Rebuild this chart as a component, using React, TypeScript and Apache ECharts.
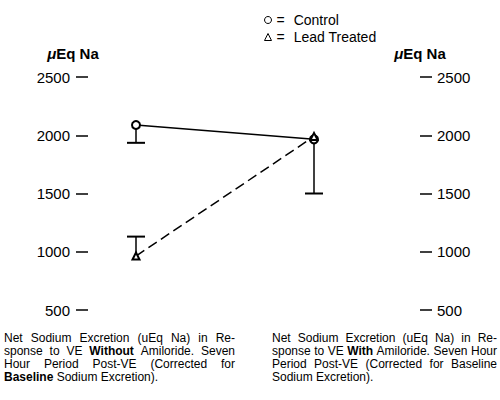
import React, { useEffect, useRef } from 'react';
import * as echarts from 'echarts';

const categories = ['Without Amiloride', 'With Amiloride'];
const seriesNames = ['Control', 'Lead Treated'];
const controlValues = [2088, 1965];
const leadValues = [963, 1990];
const controlErrorEnds = [1935, 1500];
const leadErrorEnds: (number | null)[] = [1130, null];
const yMin = 500;
const yMax = 2500;
const yStep = 500;
const axisNameParts = ['μ', 'Eq Na'];
// **word** marks bold words
const captionLeft = [
  'Net Sodium Excretion (uEq Na) in Re-',
  'sponse to VE **Without** Amiloride. Seven',
  'Hour Period Post-VE (Corrected for',
  '**Baseline** Sodium Excretion).',
];
const captionRight = [
  'Net Sodium Excretion (uEq Na) in Re-',
  'sponse to VE **With** Amiloride. Seven Hour',
  'Period Post-VE (Corrected for Baseline',
  'Sodium Excretion).',
];

const FONT = '"Liberation Sans", Arial, Helvetica, sans-serif';
const CAP_SIZE = 12;
const CAP_LH = 13;

let measureCtx: CanvasRenderingContext2D | null = null;
const measure = (t: string, bold: boolean) => {
  if (!measureCtx) measureCtx = document.createElement('canvas').getContext('2d');
  if (!measureCtx) return t.length * CAP_SIZE * 0.5;
  measureCtx.font = `${bold ? 'bold ' : ''}${CAP_SIZE}px ${FONT}`;
  return measureCtx.measureText(t).width;
};

const buildCaption = (lines: string[], width: number) => {
  const rich: Record<string, any> = {
    n: { fontSize: CAP_SIZE, fontFamily: FONT, lineHeight: CAP_LH, color: '#000' },
    b: { fontSize: CAP_SIZE, fontFamily: FONT, fontWeight: 'bold', lineHeight: CAP_LH, color: '#000' },
  };
  const out = lines.map((line, li) => {
    const words = line.split(' ').map((w) => {
      const bold = w.startsWith('**') && w.endsWith('**');
      return { text: bold ? w.slice(2, -2) : w, bold };
    });
    const last = li === lines.length - 1;
    const wordsW = words.reduce((s, w) => s + measure(w.text, w.bold), 0);
    const gap = last || words.length < 2 ? measure(' ', false) : (width - wordsW) / (words.length - 1);
    const gKey = `g${li}`;
    rich[gKey] = { width: gap, fontSize: CAP_SIZE, fontFamily: FONT, lineHeight: CAP_LH, color: '#000' };
    return words.map((w) => `{${w.bold ? 'b' : 'n'}|${w.text}}`).join(`{${gKey}| }`);
  });
  return { text: out.join('\n'), rich };
};

const errorData = (vals: number[], ends: (number | null)[]) =>
  ends
    .map((e, i) => (e == null ? null : [i, vals[i], e]))
    .filter((d) => d !== null) as number[][];

const renderError = (_params: any, api: any) => {
  const x = api.value(0);
  const p0 = api.coord([x, api.value(1)]);
  const p1 = api.coord([x, api.value(2)]);
  const half = 9;
  return {
    type: 'group',
    children: [
      {
        type: 'line',
        shape: { x1: p0[0], y1: p0[1], x2: p1[0], y2: p1[1] },
        style: { stroke: '#000', lineWidth: 1.5 },
      },
      {
        type: 'line',
        shape: { x1: p1[0] - half, y1: p1[1], x2: p1[0] + half, y2: p1[1] },
        style: { stroke: '#000', lineWidth: 2 },
      },
    ],
  };
};

const yAxisBase = (position: 'left' | 'right', offset: number, margin: number, namePad: number[]) => ({
  type: 'value',
  position,
  offset,
  min: yMin,
  max: yMax,
  interval: yStep,
  name: `{m|${axisNameParts[0]}}{t|${axisNameParts[1]}}`,
  nameLocation: 'end',
  nameGap: 16,
  nameTextStyle: {
    padding: namePad,
    rich: {
      m: { fontFamily: FONT, fontSize: 15, fontWeight: 'bold', fontStyle: 'italic', color: '#000' },
      t: { fontFamily: FONT, fontSize: 15, fontWeight: 'bold', color: '#000' },
    },
  },
  axisLine: { show: false },
  axisTick: { show: true, length: 12, lineStyle: { color: '#000', width: 1.5 } },
  axisLabel: {
    margin,
    fontSize: 15,
    fontFamily: FONT,
    color: '#000',
    formatter: (v: number) => String(v),
  },
  splitLine: { show: false },
});

export default function App() {
  const ref = useRef<HTMLDivElement>(null);
  useEffect(() => {
    if (!ref.current) return;
    const chart = echarts.init(ref.current, undefined, { renderer: 'svg' });
    const capL = buildCaption(captionLeft, 231);
    const capR = buildCaption(captionRight, 225);
    chart.setOption({
      animation: false,
      backgroundColor: '#fff',
      textStyle: { fontFamily: FONT },
      grid: { left: 136, right: 186, top: 77, bottom: 90 },
      xAxis: {
        type: 'category',
        data: categories,
        boundaryGap: false,
        show: false,
      },
      yAxis: [yAxisBase('left', 48, 18, [0, 30, 0, 0]), yAxisBase('right', 106, 17, [0, 0, 0, 0])],
      legend: {
        orient: 'vertical',
        left: 259,
        top: 8,
        itemWidth: 7,
        itemHeight: 7,
        itemGap: 3,
        data: [
          { name: seriesNames[0], icon: 'circle', itemStyle: { color: '#fff', borderColor: '#000', borderWidth: 1 } },
          { name: seriesNames[1], icon: 'triangle', itemStyle: { color: '#fff', borderColor: '#000', borderWidth: 1 } },
        ],
        formatter: (n: string) => `{e|=}{n|${n}}`,
        textStyle: {
          fontFamily: FONT,
          fontSize: 14,
          color: '#000',
          rich: {
            e: { fontFamily: FONT, fontSize: 14, color: '#000', padding: [0, 9, 0, 0] },
            n: { fontFamily: FONT, fontSize: 14, color: '#000' },
          },
        },
      },
      series: [
        {
          name: seriesNames[0],
          type: 'line',
          data: controlValues,
          symbol: 'emptyCircle',
          symbolSize: 8,
          z: 5,
          lineStyle: { color: '#000', width: 1.5 },
          itemStyle: { color: '#000', borderColor: '#000', borderWidth: 1.3 },
        },
        {
          name: seriesNames[1],
          type: 'line',
          data: leadValues,
          symbol: 'emptyTriangle',
          symbolSize: 7,
          z: 5,
          lineStyle: { color: '#000', width: 1.5, type: [10, 5] },
          itemStyle: { color: '#000', borderColor: '#000', borderWidth: 1.3 },
        },
        {
          name: 'Control error',
          type: 'custom',
          renderItem: renderError,
          data: errorData(controlValues, controlErrorEnds),
          encode: { x: 0, y: [1, 2] },
          z: 2,
          silent: true,
        },
        {
          name: 'Lead error',
          type: 'custom',
          renderItem: renderError,
          data: errorData(leadValues, leadErrorEnds),
          encode: { x: 0, y: [1, 2] },
          z: 2,
          silent: true,
        },
      ],
      graphic: [
        {
          type: 'text',
          x: 4,
          y: 331,
          style: { text: capL.text, rich: capL.rich, fill: '#000', fontFamily: FONT, fontSize: CAP_SIZE, lineHeight: CAP_LH },
        },
        {
          type: 'text',
          x: 272,
          y: 331,
          style: { text: capR.text, rich: capR.rich, fill: '#000', fontFamily: FONT, fontSize: CAP_SIZE, lineHeight: CAP_LH },
        },
      ],
    });
    return () => chart.dispose();
  }, []);
  return <div ref={ref} style={{ position: 'absolute', left: 0, top: 0, width: 500, height: 400 }} />;
}
